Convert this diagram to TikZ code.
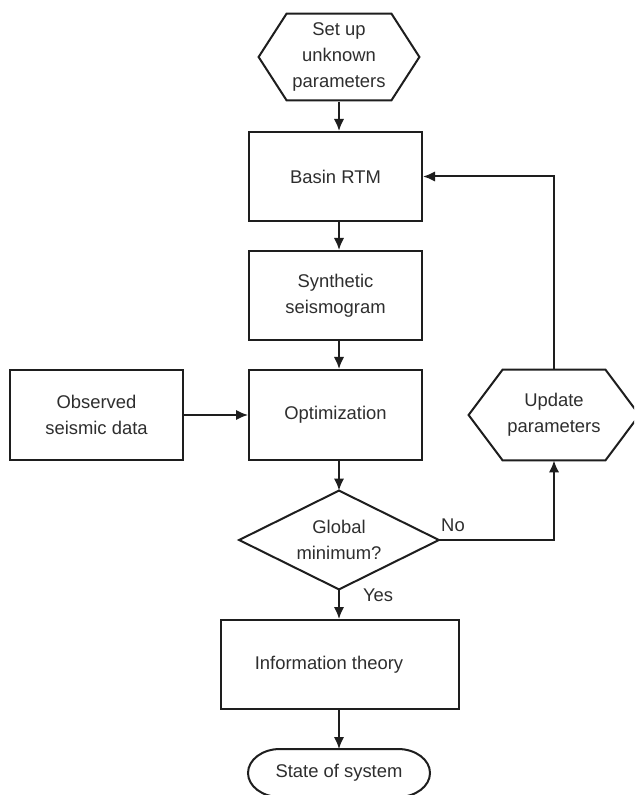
\documentclass[tikz,border=0pt]{standalone}
\usepackage{fontspec}
\setmainfont{Liberation Sans}
\usetikzlibrary{arrows.meta,calc}
\definecolor{ln}{HTML}{1E1E1E}
\definecolor{tx}{HTML}{2E2E2E}
\tikzset{
  every node/.style={font=\fontsize{9.2}{13}\selectfont, text=tx, align=center, inner sep=0pt},
  boxnode/.style={draw=ln, line width=1pt, minimum height=44.5pt},
  shapebase/.style={draw=none},
  outline/.style={draw=ln, line width=1pt, line join=miter},
  arr/.style={draw=ln, line width=1pt, -{Latex[length=6pt,width=5.2pt]}},
  lbl/.style={font=\fontsize{9.2}{11}\selectfont}
}
\begin{document}
\begin{tikzpicture}[x=0.5pt,y=-0.5pt]
\clip (0,0) rectangle (634,795);
\fill[white] (0,0) rectangle (634,795);
% top hexagon
\node[shapebase, minimum width=80pt, minimum height=44.5pt] (h1) at (339,57) {Set up\\unknown\\parameters};
\draw[outline] ([xshift=14pt,yshift=-0.75pt]h1.north west) -- ([xshift=-14pt,yshift=-0.75pt]h1.north east) -- (h1.east)
  -- ([xshift=-14pt,yshift=0.75pt]h1.south east) -- ([xshift=14pt,yshift=0.75pt]h1.south west) -- (h1.west) -- cycle;
% boxes
\node[boxnode, minimum width=86.5pt] (basin) at (335.5,176.5) {Basin RTM};
\node[boxnode, minimum width=86.5pt] (syn) at (335.5,295.5) {Synthetic\\seismogram};
\node[boxnode, minimum width=86.5pt, minimum height=45pt] (opt) at (335.5,415) {Optimization};
\node[boxnode, minimum width=86.5pt, minimum height=45pt] (obs) at (96.5,415) {Observed\\seismic data};
% diamond
\node[shapebase, minimum width=99.5pt, minimum height=49pt] (dia) at (339,540) {Global\\minimum?};
\draw[outline] (dia.north) -- (dia.east) -- (dia.south) -- (dia.west) -- cycle;
% update hexagon
\node[shapebase, minimum width=85pt, minimum height=45pt] (upd) at (554,415) {Update\\parameters};
\draw[outline] ([xshift=17pt]upd.north west) -- ([xshift=-17pt]upd.north east) -- (upd.east)
  -- ([xshift=-17pt]upd.south east) -- ([xshift=17pt]upd.south west) -- (upd.west) -- cycle;
% information theory
\node[boxnode, minimum width=119pt] (info) at (340,664.5) {};
\node (infotext) at (329,664.5) {Information theory};
% state of system terminal
\node (state) at (339,773) {State of system};
\coordinate (statetop) at (339,749);
\draw[outline] (280,749) -- (398,749) arc[start angle=90, end angle=-90, x radius=16pt, y radius=12pt]
  -- (280,797) arc[start angle=270, end angle=90, x radius=16pt, y radius=12pt] -- cycle;
% connectors
\draw[arr] (h1.south) -- (h1.south |- basin.north);
\draw[arr] (basin.south -| h1) -- (syn.north -| h1);
\draw[arr] (syn.south -| h1) -- (opt.north -| h1);
\draw[arr] (opt.south -| dia) -- (dia.north);
\draw[arr] (obs.east) -- (opt.west);
\draw[arr] (dia.south) -- (dia.south |- info.north);
\draw[arr] (info.south -| statetop) -- (statetop);
\draw[arr] (dia.east) -| (upd.south);
\draw[arr] (upd.north) |- (basin.east);
% labels
\node[lbl] (no) at (453,525) {No};
\node[lbl] (yes) at (378,595) {Yes};
\end{tikzpicture}
\end{document}
